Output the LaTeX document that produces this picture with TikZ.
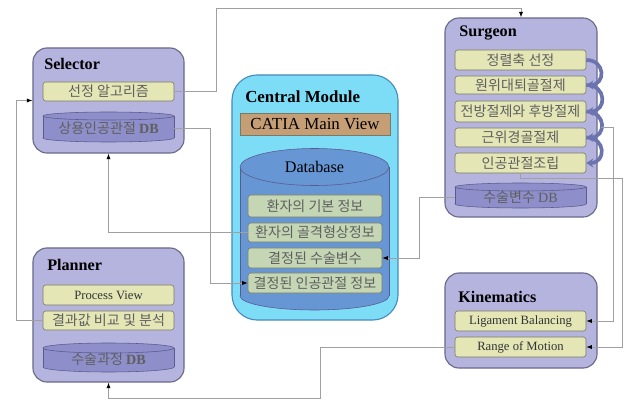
\documentclass[tikz,border=0pt]{standalone}
\usepackage{fontspec}
\setmainfont{Liberation Serif}
\newfontfamily\kr{Noto Sans CJK KR}
\usepackage{tikz}
\usetikzlibrary{arrows.meta,positioning}

\definecolor{modfill}{RGB}{180,180,222}
\definecolor{modline}{RGB}{105,105,140}
\definecolor{itemfill}{RGB}{228,230,182}
\definecolor{itemline}{RGB}{120,122,100}
\definecolor{dbfill}{RGB}{142,142,202}
\definecolor{dbline}{RGB}{90,90,140}
\definecolor{centfill}{RGB}{125,220,246}
\definecolor{centline}{RGB}{70,140,190}
\definecolor{datafill}{RGB}{102,150,212}
\definecolor{dataitem}{RGB}{196,214,180}
\definecolor{catia}{RGB}{198,158,118}
\definecolor{loopcol}{RGB}{108,116,176}
\definecolor{wire}{RGB}{160,160,160}
\definecolor{krtext}{RGB}{95,95,95}

% cylinder: x1, x2, top centre, bottom centre, top ry, bottom ry, colour
\newcommand{\drawcyl}[7]{%
  \filldraw[fill=#7, draw=dbline] ({(#1+#2)/2},#4) ellipse ({(#2-#1)/2} and #6);
  \fill[#7] (#1,#3) rectangle (#2,#4);
  \draw[dbline] (#1,#3) -- (#1,#4) (#2,#3) -- (#2,#4);
  \filldraw[fill=#7, draw=dbline] ({(#1+#2)/2},#3) ellipse ({(#2-#1)/2} and #5);
}

\begin{document}
\begin{tikzpicture}[x=0.025cm,y=-0.025cm,
    module/.style={draw=modline, fill=modfill, line width=0.8pt, rounded corners=10pt},
    title/.style={anchor=west, inner sep=0pt, font=\bfseries\fontsize{11.5}{13}\selectfont},
    item/.style={draw=itemline, fill=itemfill, rounded corners=2pt, minimum width=3.275cm,
      minimum height=0.5cm, inner sep=0pt, text=krtext, font=\kr\fontsize{10}{11}\selectfont},
    initem/.style={item, font=\fontsize{9}{10}\selectfont, text=black!80},
    dbitem/.style={item, fill=dataitem, minimum width=3.35cm},
    dbtext/.style={minimum width=3.275cm, inner sep=0pt, text=krtext, font=\kr\fontsize{10}{11}\selectfont},
    wireto/.style={draw=wire, line width=0.6pt, -{Latex[length=4pt,width=3pt,color=black]}},
    looparr/.style={draw=loopcol, line width=2.6pt, -{Stealth[length=5pt,width=6.5pt]}}]
  \useasboundingbox (0,0) rectangle (624,400);

  % Selector
  \node[module, minimum width=3.775cm, minimum height=2.625cm] (selector) at (108.5,100.5) {};
  \node[title] (seltitle) at (44,64) {Selector};
  \node[item, minimum height=0.475cm] (sel1) at (108.5,91.5) {선정 알고리즘};
  \drawcyl{43}{174}{116}{138}{4}{4}{dbfill}
  \node[dbtext] (sel2) at (108.5,128.5) {상용인공관절 {\fontspec{Liberation Serif}\bfseries DB}};

  % Central Module
  \node[module, draw=centline, fill=centfill, rounded corners=18pt,
    minimum width=4.15cm, minimum height=6.125cm] (central) at (315,197.5) {};
  \node[title, font=\bfseries\fontsize{12}{13}\selectfont] (centtitle) at (245,97) {Central Module};
  \node[draw=itemline, fill=catia, minimum width=3.75cm, minimum height=0.55cm, inner sep=0pt,
    font=\fontsize{12}{13}\selectfont] (catiaview) at (315,124) {CATIA Main View};
  \drawcyl{240}{389}{167}{296}{18.5}{14}{datafill}
  \node[font=\fontsize{11.5}{12}\selectfont] (dbase) at (314.5,167) {Database};
  \node[dbitem, minimum height=0.55cm] (c1) at (315,206) {환자의 기본 정보};
  \node[dbitem, minimum height=0.475cm] (c2) at (315,232.5) {환자의 골격형상정보};
  \node[dbitem] (c3) at (315,258) {결정된 수술변수};
  \node[dbitem] (c4) at (315,283) {결정된 인공관절 정보};

  % Surgeon
  \node[module, minimum width=3.8cm, minimum height=4.975cm] (surgeon) at (521,117.5) {};
  \node[title] (surgtitle) at (459,33) {Surgeon};
  \node[item] (s1) at (520.5,60) {정렬축 선정};
  \node[item, minimum height=0.45cm] (s2) at (520.5,85) {원위대퇴골절제};
  \node[item, minimum height=0.525cm] (s3) at (520.5,111.5) {전방절제와 후방절제};
  \node[item, minimum height=0.475cm] (s4) at (520.5,137.5) {근위경골절제};
  \node[item] (s5) at (520.5,163) {인공관절조립};
  \drawcyl{455}{586}{187}{204}{4}{4}{dbfill}
  \node[dbtext] (sdb) at (520.5,197) {수술변수 {\fontspec{Liberation Serif}DB}};
  \foreach \a/\b in {s1/s2,s2/s3,s3/s4,s4/s5}
    \draw[looparr] (\a.east) to[out=0,in=0,looseness=2] (\b.east);
  \coordinate (s3out) at (601,127);

  % Planner
  \node[module, minimum width=3.775cm, minimum height=3.35cm] (planner) at (108.5,315) {};
  \node[title] (plantitle) at (47,265) {Planner};
  \node[initem] (p1) at (108.5,295) {Process View};
  \node[item, minimum height=0.475cm] (p2) at (108.5,320.5) {결과값 비교 및 분석};
  \drawcyl{43}{174}{348}{367}{5}{5}{dbfill}
  \node[dbtext] (pdb) at (108.5,359) {수술과정 {\fontspec{Liberation Serif}\bfseries DB}};

  % Kinematics
  \node[module, minimum width=3.8cm, minimum height=2.375cm] (kinematics) at (521,320.5) {};
  \node[title] (kintitle) at (458,297) {Kinematics};
  \node[initem] (k1) at (520.5,321) {Ligament Balancing};
  \node[initem] (k2) at (520.5,347) {Range of Motion};

  % connectors
  \draw[wireto] (sel1.east) -| (216,8) -| (surgeon.north);
  \draw[wireto] (sel2.east) -- ++(36,0) |- (c4.west);
  \draw[wireto] (p2.west) -- ++(-26,0) |- (selector.west);
  \draw[wireto] (c2.west) -| (selector.south);
  \draw[wireto] (sdb.west) -- ++(-35,0) |- (c3.east);
  \draw[wireto] (s3out) -- (613,127) |- (k1.east);
  \draw[wireto] (s5.south) |- (622,178) |- (k2.east);
  \draw[wireto] (k2.west) -| (320,398) -| (planner.south);
\end{tikzpicture}
\end{document}
